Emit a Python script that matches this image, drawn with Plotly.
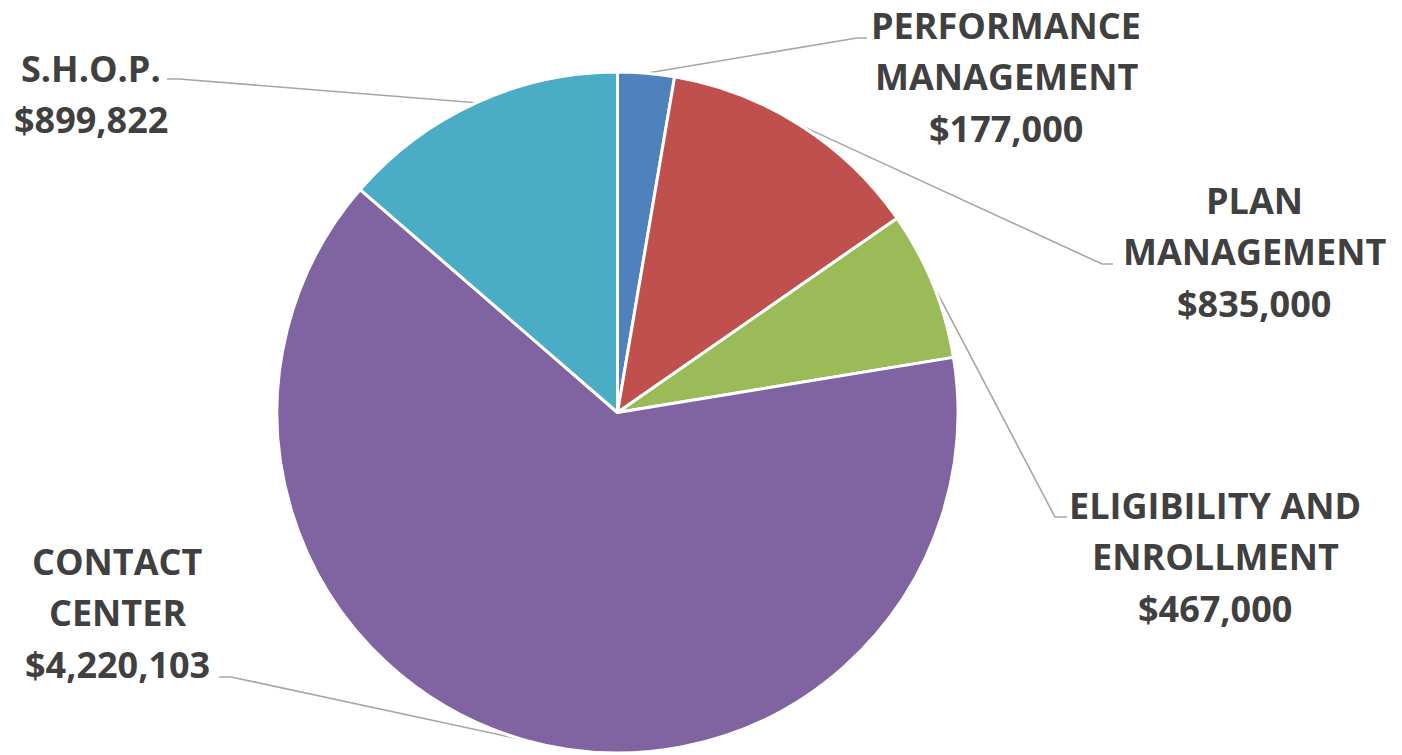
import math
import plotly.graph_objects as go

# ---- data ----
categories = ["PERFORMANCE\nMANAGEMENT", "PLAN\nMANAGEMENT", "ELIGIBILITY AND\nENROLLMENT",
              "CONTACT\nCENTER", "S.H.O.P."]
values = [177000, 835000, 467000, 4220103, 899822]
colors = ["#4F81BD", "#C0504D", "#9BBB59", "#8064A2", "#4BACC6"]

# ---- layout / style (pixel geometry) ----
W, H = 1402, 755
CX, CY, R = 617.5, 412.5, 340.5          # pie centre and radius in pixels
LINE_GAP = 51.5
# label block: centre x, first-line centre y, elbow point, elbow end (towards text)
label_pos = [
    dict(cx=1006, y0=25, elbow=(857, 38), end=(867, 38)),
    dict(cx=1254, y0=200, elbow=(1102, 264), end=(1113, 264)),
    dict(cx=1215, y0=505, elbow=(1055, 517), end=(1067, 517)),
    dict(cx=117, y0=561, elbow=(231, 677), end=(219, 677)),
    dict(cx=91, y0=68, elbow=(179, 79), end=(167, 79)),
]
TEXT_COLOR = "#404040"
LEADER_COLOR = "#A6A6A6"
FONT = "Open Sans"
FONT_SIZE = 36

fig = go.Figure()

fig.add_trace(go.Pie(
    labels=[c.replace("\n", " ") for c in categories],
    values=values,
    sort=False,
    direction="clockwise",
    rotation=0,
    marker=dict(colors=colors, line=dict(color="white", width=3)),
    textinfo="none",
    hoverinfo="label+value+percent",
    showlegend=False,
    domain=dict(x=[(CX - R) / W, (CX + R) / W],
                y=[(H - CY - R) / H, (H - CY + R) / H]),
))

total = sum(values)
cum = 0
annotations = []
for name, v, pos in zip(categories, values, label_pos):
    mid = (cum + v / 2) / total * 2 * math.pi
    cum += v
    sx = CX + R * math.sin(mid)
    sy = CY - R * math.cos(mid)
    ex, ey = pos["elbow"]
    tx, ty = pos["end"]
    fig.add_trace(go.Scatter(
        x=[sx, ex, tx], y=[sy, ey, ty], mode="lines",
        line=dict(color=LEADER_COLOR, width=1.6),
        hoverinfo="skip", showlegend=False,
    ))
    lines = name.split("\n") + [f"${v:,}"]
    for i, ln in enumerate(lines):
        annotations.append(dict(
            x=pos["cx"], y=pos["y0"] + i * LINE_GAP, xref="x", yref="y",
            text=f"<b>{ln}</b>", showarrow=False,
            xanchor="center", yanchor="middle",
            font=dict(family=FONT, size=FONT_SIZE, color=TEXT_COLOR),
        ))

fig.update_layout(
    width=W, height=H,
    margin=dict(l=0, r=0, t=0, b=0),
    paper_bgcolor="white", plot_bgcolor="rgba(0,0,0,0)",
    xaxis=dict(range=[0, W], visible=False, fixedrange=True),
    yaxis=dict(range=[H, 0], visible=False, fixedrange=True),
    annotations=annotations,
)

fig.write_html("out.html", config={"displayModeBar": False},
               post_script="document.body.style.margin='0px';")
